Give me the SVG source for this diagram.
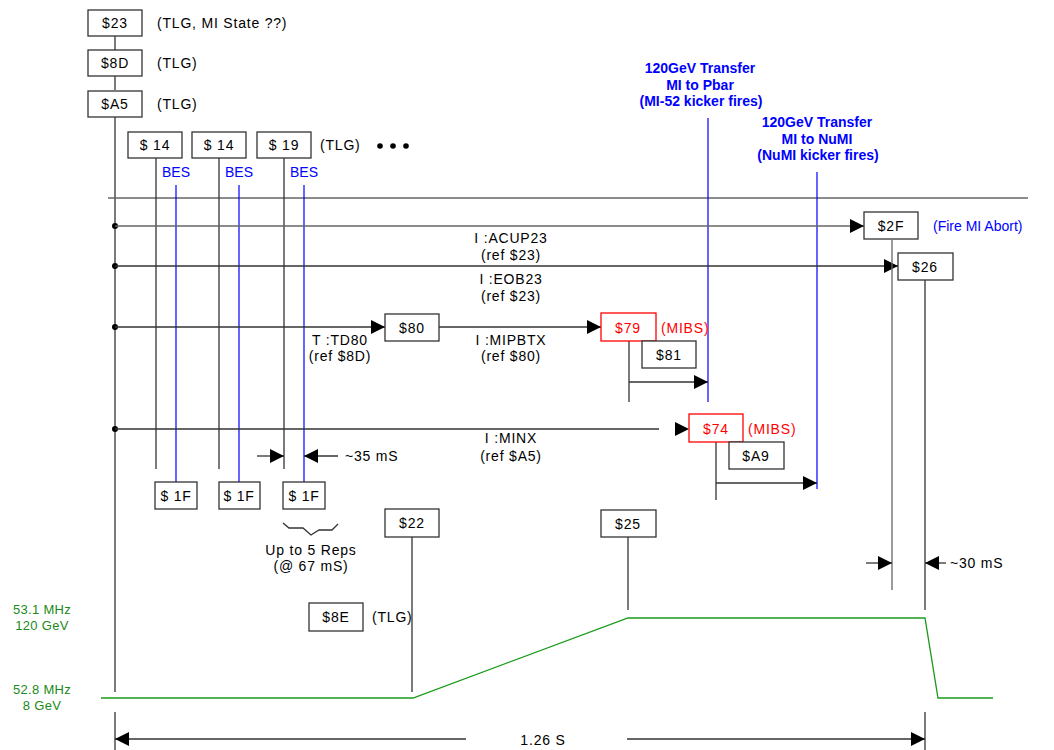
<svg xmlns="http://www.w3.org/2000/svg" width="1054" height="750" viewBox="0 0 1054 750">
<defs>
<style>
.bx{fill:#fff;stroke:#333;stroke-width:1.3}
.rbx{fill:#fff;stroke:#f00;stroke-width:1.3}
.t{font-family:"Liberation Sans",Arial,sans-serif;font-size:14px;fill:#000;letter-spacing:0.8px}
.c{text-anchor:middle}
.r{fill:#f00}
.g{fill:#1a8a1a;font-size:13px;letter-spacing:0.3px}
.b{font-family:"Liberation Sans",Arial,sans-serif;font-size:14px;font-weight:bold;fill:#0000ff;text-anchor:middle}
.bs{font-family:"Liberation Sans",Arial,sans-serif;font-size:14px;fill:#0000ff}
.ln{stroke:#333;stroke-width:1.3;fill:none}
.gl{stroke:#666;stroke-width:1.3;fill:none}
.bl{stroke:#0000ff;stroke-width:1.2;fill:none}
.gr{stroke:#1a9a1a;stroke-width:1.3;fill:none}
</style>
<marker id="ah" viewBox="0 0 10 10" refX="10" refY="5" markerWidth="14" markerHeight="14" markerUnits="userSpaceOnUse" orient="auto"><path d="M0,0 L10,5 L0,10 Z" fill="#000"/></marker>
</defs>

<g id="connectors">
<line class="ln" x1="115" y1="36" x2="115" y2="50"/>
<line class="ln" x1="115" y1="76" x2="115" y2="90"/>
<line class="ln" x1="115" y1="117" x2="115" y2="692"/>
<line class="ln" x1="115" y1="712" x2="115" y2="750"/>
<line class="gl" x1="108" y1="198" x2="1028" y2="198"/>
<line class="ln" x1="156" y1="158" x2="156" y2="469"/>
<line class="ln" x1="219" y1="158" x2="219" y2="469"/>
<line class="ln" x1="284" y1="158" x2="284" y2="469"/>
<line class="bl" x1="176" y1="185" x2="176" y2="482"/>
<line class="bl" x1="239" y1="185" x2="239" y2="482"/>
<line class="bl" x1="304" y1="185" x2="304" y2="482"/>
<line class="bl" x1="708" y1="118" x2="708" y2="402"/>
<line class="bl" x1="817" y1="172" x2="817" y2="489"/>
<circle cx="115" cy="226" r="3" fill="#000"/>
<line class="gl" x1="115" y1="226" x2="864" y2="226" marker-end="url(#ah)"/>
<circle cx="115" cy="266" r="3" fill="#000"/>
<line class="ln" x1="115" y1="266" x2="898" y2="266" marker-end="url(#ah)"/>
<circle cx="115" cy="327" r="3" fill="#000"/>
<line class="ln" x1="115" y1="327" x2="385" y2="327" marker-end="url(#ah)"/>
<line class="ln" x1="439" y1="327" x2="601" y2="327" marker-end="url(#ah)"/>
<circle cx="115" cy="429" r="3" fill="#000"/>
<line class="ln" x1="115" y1="429" x2="659" y2="429"/>
<path d="M675,422 L689,429 L675,436 Z" fill="#000"/>
<line class="ln" x1="629" y1="341" x2="629" y2="402"/>
<line class="ln" x1="629" y1="382" x2="708" y2="382" marker-end="url(#ah)"/>
<line class="ln" x1="716" y1="442" x2="716" y2="500"/>
<line class="ln" x1="716" y1="483" x2="817" y2="483" marker-end="url(#ah)"/>
<line class="gl" x1="892" y1="240" x2="892" y2="590"/>
<line class="ln" x1="925" y1="280" x2="925" y2="610"/>
<line class="ln" x1="925" y1="712" x2="925" y2="750"/>
<line class="ln" x1="412" y1="537" x2="412" y2="692"/>
<line class="ln" x1="628" y1="537" x2="628" y2="610"/>
<line class="ln" x1="257" y1="456" x2="284" y2="456" marker-end="url(#ah)"/>
<line class="ln" x1="338" y1="456" x2="304" y2="456" marker-end="url(#ah)"/>
<line class="ln" x1="866" y1="563" x2="892" y2="563" marker-end="url(#ah)"/>
<line class="ln" x1="946" y1="563" x2="925" y2="563" marker-end="url(#ah)"/>
<polyline class="ln" points="283,523 289,528 303,528 311,535 319,530 332,530 338,524"/>
<line class="ln" x1="466" y1="739" x2="115" y2="739" marker-end="url(#ah)"/>
<line class="ln" x1="627" y1="739" x2="925" y2="739" marker-end="url(#ah)"/>
<polyline class="gr" points="101,698 413,698 628,618 925,618 938,698 993,698"/>
</g>

<g id="n23"><rect class="bx" x="88" y="10" width="54" height="26"/><text class="t c" x="115" y="28">$23</text><text class="t" x="157" y="28">(TLG, MI State ??)</text></g>
<g id="n8D"><rect class="bx" x="88" y="50" width="54" height="26"/><text class="t c" x="115" y="68">$8D</text><text class="t" x="157" y="68">(TLG)</text></g>
<g id="nA5"><rect class="bx" x="88" y="91" width="54" height="26"/><text class="t c" x="115" y="109">$A5</text><text class="t" x="157" y="109">(TLG)</text></g>
<g id="n14a"><rect class="bx" x="128" y="132" width="54" height="26"/><text class="t c" x="155" y="150">$ 14</text><text class="bs" x="162" y="177">BES</text></g>
<g id="n14b"><rect class="bx" x="192" y="132" width="54" height="26"/><text class="t c" x="219" y="150">$ 14</text><text class="bs" x="225" y="177">BES</text></g>
<g id="n19"><rect class="bx" x="257" y="132" width="54" height="26"/><text class="t c" x="284" y="150">$ 19</text><text class="bs" x="290" y="177">BES</text><text class="t" x="320" y="150">(TLG)</text>
<circle cx="380" cy="146" r="2.8" fill="#000"/><circle cx="393" cy="146" r="2.8" fill="#000"/><circle cx="406" cy="146" r="2.8" fill="#000"/></g>
<g id="xfer1"><text class="b" x="700" y="73">120GeV Transfer</text><text class="b" x="700" y="90">MI to Pbar</text><text class="b" x="701" y="106">(MI-52 kicker fires)</text></g>
<g id="xfer2"><text class="b" x="817" y="127">120GeV Transfer</text><text class="b" x="817" y="144">MI to NuMI</text><text class="b" x="818" y="160">(NuMI kicker fires)</text></g>
<g id="n2F"><rect class="bx" x="864" y="212" width="54" height="27"/><text class="t c" x="891" y="231">$2F</text><text class="bs" x="933" y="231">(Fire MI Abort)</text></g>
<g id="n26"><rect class="bx" x="898" y="253" width="55" height="27"/><text class="t c" x="925" y="272">$26</text></g>
<g id="lbl1"><text class="t c" x="511" y="243">I :ACUP23</text><text class="t c" x="511" y="260">(ref $23)</text></g>
<g id="lbl2"><text class="t c" x="511" y="284">I :EOB23</text><text class="t c" x="511" y="301">(ref $23)</text></g>
<g id="n80"><rect class="bx" x="385" y="314" width="54" height="27"/><text class="t c" x="412" y="333">$80</text><text class="t c" x="340" y="345">T :TD80</text><text class="t c" x="340" y="361">(ref $8D)</text></g>
<g id="lbl3"><text class="t c" x="511" y="345">I :MIPBTX</text><text class="t c" x="511" y="361">(ref $80)</text></g>
<g id="n79"><rect class="rbx" x="601" y="313" width="55" height="28"/><text class="t c r" x="628" y="333">$79</text><text class="t r" x="661" y="333">(MIBS)</text></g>
<g id="n81"><rect class="bx" x="642" y="341" width="54" height="27"/><text class="t c" x="669" y="360">$81</text></g>
<g id="n74"><rect class="rbx" x="689" y="414" width="54" height="28"/><text class="t c r" x="716" y="434">$74</text><text class="t r" x="748" y="434">(MIBS)</text></g>
<g id="nA9"><rect class="bx" x="729" y="442" width="55" height="27"/><text class="t c" x="756" y="461">$A9</text></g>
<g id="lbl4"><text class="t c" x="511" y="443">I :MINX</text><text class="t c" x="511" y="461">(ref $A5)</text></g>
<g id="n1Fa"><rect class="bx" x="155" y="482" width="42" height="27"/><text class="t c" x="176" y="501">$ 1F</text></g>
<g id="n1Fb"><rect class="bx" x="219" y="482" width="41" height="27"/><text class="t c" x="239" y="501">$ 1F</text></g>
<g id="n1Fc"><rect class="bx" x="283" y="482" width="42" height="27"/><text class="t c" x="304" y="501">$ 1F</text></g>
<g id="lbl35"><text class="t" x="345" y="461">~35 mS</text></g>
<g id="reps"><text class="t c" x="311" y="555">Up to 5 Reps</text><text class="t c" x="311" y="571">(@ 67 mS)</text></g>
<g id="n22"><rect class="bx" x="385" y="509" width="54" height="28"/><text class="t c" x="412" y="528">$22</text></g>
<g id="n25"><rect class="bx" x="601" y="510" width="55" height="27"/><text class="t c" x="628" y="529">$25</text></g>
<g id="lbl30"><text class="t" x="950" y="568">~30 mS</text></g>
<g id="n8E"><rect class="bx" x="309" y="603" width="54" height="28"/><text class="t c" x="336" y="622">$8E</text><text class="t" x="372" y="622">(TLG)</text></g>
<g id="glbl"><text class="t g c" x="42" y="614">53.1 MHz</text><text class="t g c" x="42" y="630">120 GeV</text><text class="t g c" x="42" y="694">52.8 MHz</text><text class="t g c" x="42" y="710">8 GeV</text></g>
<g id="dim"><text class="t c" x="543" y="745">1.26 S</text></g>
</svg>
